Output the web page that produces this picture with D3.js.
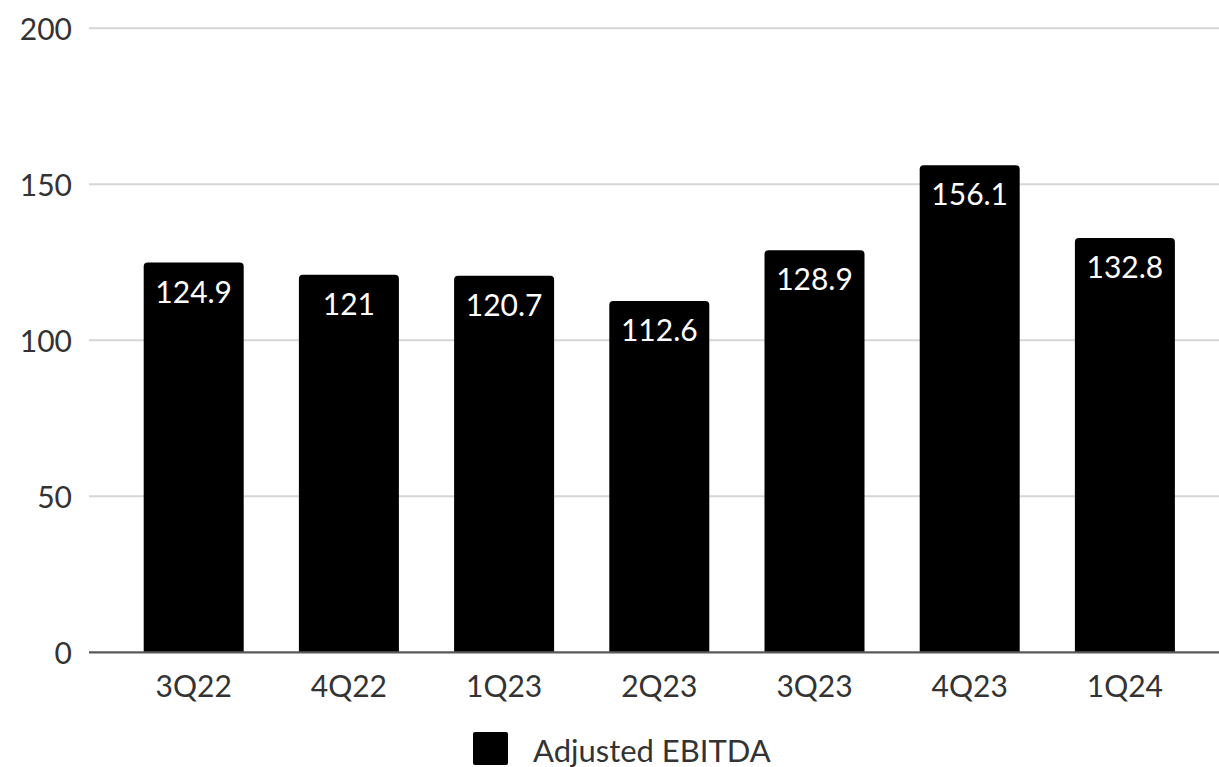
<!DOCTYPE html>
<html>
<head>
<meta charset="utf-8">
<script src="https://cdn.jsdelivr.net/npm/d3@7"></script>
<style>
  html, body { margin: 0; padding: 0; background: #fff; }
  svg { display: block; }
</style>
</head>
<body>
<svg id="chart" width="1219" height="767"></svg>
<script>
const categories = ["3Q22", "4Q22", "1Q23", "2Q23", "3Q23", "4Q23", "1Q24"];
const adjustedEBITDA = [124.9, 121, 120.7, 112.6, 128.9, 156.1, 132.8];
const valueLabels = ["124.9", "121", "120.7", "112.6", "128.9", "156.1", "132.8"];
const yTicks = [0, 50, 100, 150, 200];
const seriesName = "Adjusted EBITDA";

const W = 1219, H = 767;
const svg = d3.select("#chart");
const font = "Lato, 'Open Sans', sans-serif";

const y = d3.scaleLinear().domain([0, 200]).range([652.3, 28.3]);
const pad = 1 - 100 / 155.2;
const x = d3.scaleBand().domain(categories).range([116.1, 1202.5])
  .paddingInner(pad).paddingOuter(pad / 2);

const gridLeft = 89, gridRight = W;

// gridlines
svg.append("g").selectAll("line").data(yTicks.filter(d => d !== 0)).join("line")
  .attr("x1", gridLeft).attr("x2", gridRight)
  .attr("y1", d => y(d)).attr("y2", d => y(d))
  .attr("stroke", "#d6d6d6").attr("stroke-width", 2);

// y tick labels
const yAxis = d3.axisLeft(y).tickValues(yTicks).tickSize(0).tickPadding(0);
const gy = svg.append("g").attr("transform", "translate(72,0)").call(yAxis);
gy.select(".domain").remove();
gy.selectAll("text")
  .attr("font-family", font).attr("font-size", 30).attr("fill", "#333")
  .attr("dy", "0.36em");

// bars with rounded top corners
const r = 4;
function barPath(d, i) {
  const x0 = x(categories[i]), w = x.bandwidth();
  const yt = y(d), yb = y(0);
  return `M${x0},${yb} L${x0},${yt + r} Q${x0},${yt} ${x0 + r},${yt} L${x0 + w - r},${yt} Q${x0 + w},${yt} ${x0 + w},${yt + r} L${x0 + w},${yb} Z`;
}
svg.append("g").selectAll("path").data(adjustedEBITDA).join("path")
  .attr("d", barPath).attr("fill", "#000");

// value labels
svg.append("g").selectAll("text").data(adjustedEBITDA).join("text")
  .attr("x", (d, i) => x(categories[i]) + x.bandwidth() / 2)
  .attr("y", d => y(d) + 40)
  .attr("text-anchor", "middle")
  .attr("font-family", font).attr("font-size", 30).attr("fill", "#fff")
  .text((d, i) => valueLabels[i]);

// x axis baseline
svg.append("line")
  .attr("x1", gridLeft).attr("x2", gridRight)
  .attr("y1", y(0)).attr("y2", y(0))
  .attr("stroke", "#595959").attr("stroke-width", 2.2);

// x tick labels
const xAxis = d3.axisBottom(x).tickSize(0).tickPadding(0);
const gx = svg.append("g").attr("transform", `translate(0,${y(0)})`).call(xAxis);
gx.select(".domain").remove();
gx.selectAll("text")
  .attr("font-family", font).attr("font-size", 30).attr("fill", "#333")
  .attr("dy", null).attr("y", 45);

// legend
const lg = svg.append("g");
lg.append("rect").attr("x", 473).attr("y", 732).attr("width", 35).attr("height", 33)
  .attr("rx", 2).attr("fill", "#000");
lg.append("text").attr("x", 533).attr("y", 761.5)
  .attr("font-family", font).attr("font-size", 31).attr("fill", "#333")
  .text(seriesName);
</script>
</body>
</html>
